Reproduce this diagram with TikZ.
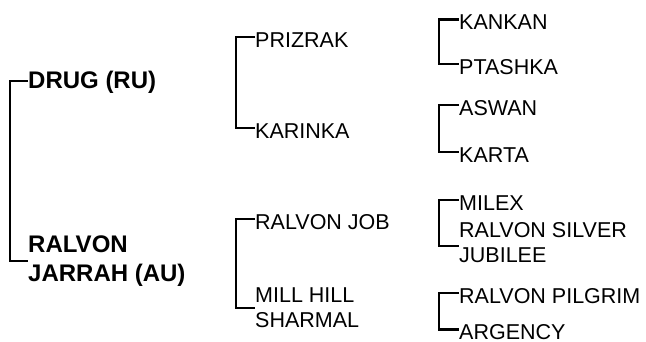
\documentclass[tikz,border=0pt]{standalone}
\usepackage{fontspec}
\setmainfont{Liberation Sans}
\begin{document}
\begin{tikzpicture}[x=1pt,y=-1pt,
  bracket/.style={line width=2.6pt,line join=miter},
  reg/.style={anchor=west,inner sep=0pt,font=\fontsize{21.5}{25}\selectfont,text height=20pt,text depth=0pt},
  regtwo/.style={anchor=west,inner sep=0pt,align=left,font=\fontsize{21.5}{25}\selectfont},
  boldone/.style={anchor=west,inner sep=0pt,font=\fontsize{24}{28.5}\selectfont\bfseries,text height=15.2pt,text depth=0pt},
  boldtwo/.style={anchor=west,inner sep=0pt,align=left,font=\fontsize{24}{28.5}\selectfont\bfseries}]
\useasboundingbox (0,0) rectangle (646,341);
% generation 1
\node[boldone] (drug) at (28,81) {DRUG (RU)};
\node[boldtwo] (jarrah) at (28,261) {RALVON\\JARRAH (AU)};
% generation 2
\node[reg] (prizrak) at (255,37) {PRIZRAK};
\node[reg] (karinka) at (255,128) {KARINKA};
\node[reg] (job) at (255,219) {RALVON JOB};
\node[regtwo] (sharmal) at (255,308) {MILL HILL\\SHARMAL};
% generation 3
\node[reg] (kankan) at (459,19.5) {KANKAN};
\node[reg] (ptashka) at (459,64) {PTASHKA};
\node[reg] (aswan) at (459,105) {ASWAN};
\node[reg] (karta) at (459,152) {KARTA};
\node[reg] (milex) at (459,200) {MILEX};
\node[regtwo] (silver) at (459,243) {RALVON SILVER\\JUBILEE};
\node[reg] (pilgrim) at (459,293) {RALVON PILGRIM};
\node[reg] (argency) at (459,329.5) {ARGENCY};
% brackets
\draw[bracket] (drug.west) -- ++(-18,0) |- (jarrah.west);
\draw[bracket] (prizrak.west) -- ++(-19,0) |- (karinka.west);
\draw[bracket] (job.west) -- ++(-19,0) |- (sharmal.west);
\draw[bracket] (kankan.west) -- ++(-20,0) |- (ptashka.west);
\draw[bracket] (aswan.west) -- ++(-20,0) |- (karta.west);
\draw[bracket] (milex.west) -- ++(-20,0) |- ([yshift=-3pt]silver.west);
\draw[bracket] (pilgrim.west) -- ++(-20,0) |- (argency.west);
\end{tikzpicture}
\end{document}
